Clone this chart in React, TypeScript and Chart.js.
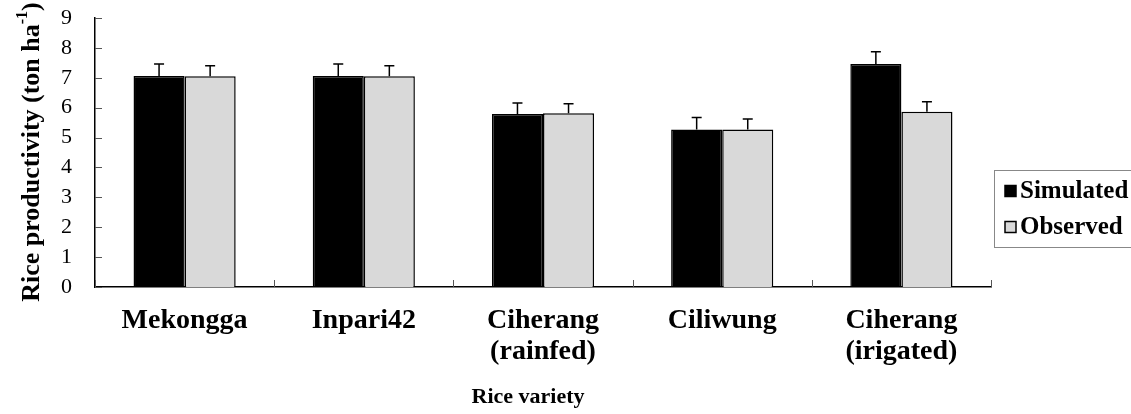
import React, { useEffect, useRef } from "react";
import { Chart, registerables } from "chart.js";

Chart.register(...registerables);

// Rice productivity per variety (ton ha-1)
const varieties: string[][] = [
  ["Mekongga"],
  ["Inpari42"],
  ["Ciherang", "(rainfed)"],
  ["Ciliwung"],
  ["Ciherang", "(irigated)"],
];
const simulated: number[] = [7.06, 7.06, 5.79, 5.27, 7.46];
const simulatedErr: number[] = [0.4, 0.4, 0.37, 0.4, 0.41];
const observed: number[] = [7.05, 7.05, 5.81, 5.27, 5.86];
const observedErr: number[] = [0.35, 0.35, 0.32, 0.35, 0.34];
const yTicks: number[] = [0, 1, 2, 3, 4, 5, 6, 7, 8, 9];

const SERIF = "'Liberation Serif', 'Times New Roman', serif";

const decorPlugin = {
  id: "decor",
  afterDatasetsDraw(chart: any) {
    const { ctx, chartArea, scales } = chart;
    const xs = scales.x;
    const ys = scales.y;
    ctx.save();

    // upward error bars
    const errs = [simulatedErr, observedErr];
    chart.data.datasets.forEach((ds: any, di: number) => {
      const meta = chart.getDatasetMeta(di);
      meta.data.forEach((bar: any, i: number) => {
        const v = ds.data[i];
        const top = ys.getPixelForValue(v + errs[di][i]);
        const base = ys.getPixelForValue(v);
        ctx.strokeStyle = "#000";
        ctx.lineWidth = 1.5;
        ctx.beginPath();
        ctx.moveTo(bar.x, base);
        ctx.lineTo(bar.x, top);
        ctx.moveTo(bar.x - 5, top);
        ctx.lineTo(bar.x + 5, top);
        ctx.stroke();
      });
    });

    // inward tick marks on both axes
    ctx.strokeStyle = "#555";
    ctx.lineWidth = 1;
    ys.ticks.forEach((t: any) => {
      const y = Math.round(ys.getPixelForValue(t.value)) + 0.5;
      ctx.beginPath();
      ctx.moveTo(chartArea.left, y);
      ctx.lineTo(chartArea.left + 7, y);
      ctx.stroke();
    });
    const n = chart.data.labels.length;
    const step = (chartArea.right - chartArea.left) / n;
    for (let i = 0; i <= n; i++) {
      const x = Math.round(chartArea.left + i * step) + 0.5;
      ctx.beginPath();
      ctx.moveTo(x, chartArea.bottom);
      ctx.lineTo(x, chartArea.bottom - 7);
      ctx.stroke();
    }

    // category labels
    ctx.fillStyle = "#000";
    ctx.textAlign = "center";
    ctx.textBaseline = "middle";
    ctx.font = `bold 28px ${SERIF}`;
    chart.data.labels.forEach((lab: string[], i: number) => {
      const x = xs.getPixelForTick(i);
      lab.forEach((line, li) => {
        ctx.fillText(line, x, chartArea.bottom + 34 + li * 31);
      });
    });

    // x-axis title
    ctx.font = `bold 22px ${SERIF}`;
    ctx.fillText("Rice variety", 528, 397);

    // y-axis title with superscript
    ctx.save();
    ctx.translate(30, 152);
    ctx.rotate(-Math.PI / 2);
    const mainFont = `bold 26px ${SERIF}`;
    const supFont = `bold 16px ${SERIF}`;
    const p1 = "Rice productivity (ton ha";
    const p2 = "-1";
    const p3 = ")";
    ctx.font = mainFont;
    const w1 = ctx.measureText(p1).width;
    const w3 = ctx.measureText(p3).width;
    ctx.font = supFont;
    const w2 = ctx.measureText(p2).width;
    let x0 = -(w1 + w2 + w3) / 2;
    ctx.textAlign = "left";
    ctx.textBaseline = "alphabetic";
    ctx.font = mainFont;
    ctx.fillText(p1, x0, 9);
    x0 += w1;
    ctx.font = supFont;
    ctx.fillText(p2, x0, -3);
    x0 += w2;
    ctx.font = mainFont;
    ctx.fillText(p3, x0, 9);
    ctx.restore();

    // legend box
    ctx.strokeStyle = "#888";
    ctx.lineWidth = 1;
    ctx.strokeRect(994.5, 170.5, 160, 77);
    ctx.font = `bold 25px ${SERIF}`;
    ctx.textAlign = "left";
    ctx.textBaseline = "middle";
    chart.data.datasets.forEach((ds: any, di: number) => {
      const cy = 191 + di * 36;
      ctx.fillStyle = ds.backgroundColor;
      ctx.fillRect(1005, cy - 5.5, 11, 11);
      ctx.strokeStyle = "#000";
      ctx.lineWidth = 1.5;
      ctx.strokeRect(1005, cy - 5.5, 11, 11);
      ctx.fillStyle = "#000";
      ctx.fillText(ds.label, 1020, cy + 1);
    });

    ctx.restore();
  },
};

export default function App() {
  const canvasRef = useRef<HTMLCanvasElement | null>(null);

  useEffect(() => {
    document.body.style.margin = "0";
    const canvas = canvasRef.current;
    if (!canvas) return;
    const chart = new Chart(canvas, {
      type: "bar",
      data: {
        labels: varieties,
        datasets: [
          {
            label: "Simulated",
            data: simulated,
            backgroundColor: "#000000",
            borderColor: "#000000",
            borderWidth: 1.5,
          },
          {
            label: "Observed",
            data: observed,
            backgroundColor: "#d9d9d9",
            borderColor: "#000000",
            borderWidth: 1.5,
          },
        ],
      },
      options: {
        responsive: false,
        animation: false,
        devicePixelRatio: 1,
        layout: { padding: { top: 18, right: 140, left: 0, bottom: 0 } },
        plugins: {
          legend: { display: false },
          tooltip: { enabled: false },
        },
        datasets: {
          bar: { barPercentage: 1, categoryPercentage: 0.57 },
        },
        scales: {
          x: {
            grid: { display: false },
            border: { display: true, color: "#000", width: 1.5 },
            ticks: { display: false },
            afterFit: (s: any) => {
              s.height = 127;
              s.paddingLeft = 0;
              s.paddingRight = 0;
            },
          },
          y: {
            min: 0,
            max: 9,
            afterBuildTicks: (s: any) => {
              s.ticks = yTicks.map((v) => ({ value: v }));
            },
            grid: { display: false, drawTicks: false },
            border: { display: true, color: "#000", width: 1.5 },
            ticks: {
              color: "#000",
              padding: 23,
              autoSkip: false,
              font: { family: SERIF, size: 22 },
            },
            afterFit: (s: any) => {
              s.width = 95;
              s.paddingTop = 0;
              s.paddingBottom = 0;
            },
          },
        },
      },
      plugins: [decorPlugin],
    });
    return () => chart.destroy();
  }, []);

  return (
    <div style={{ width: 1131, height: 414, overflow: "hidden" }}>
      <canvas ref={canvasRef} width={1131} height={414} />
    </div>
  );
}
